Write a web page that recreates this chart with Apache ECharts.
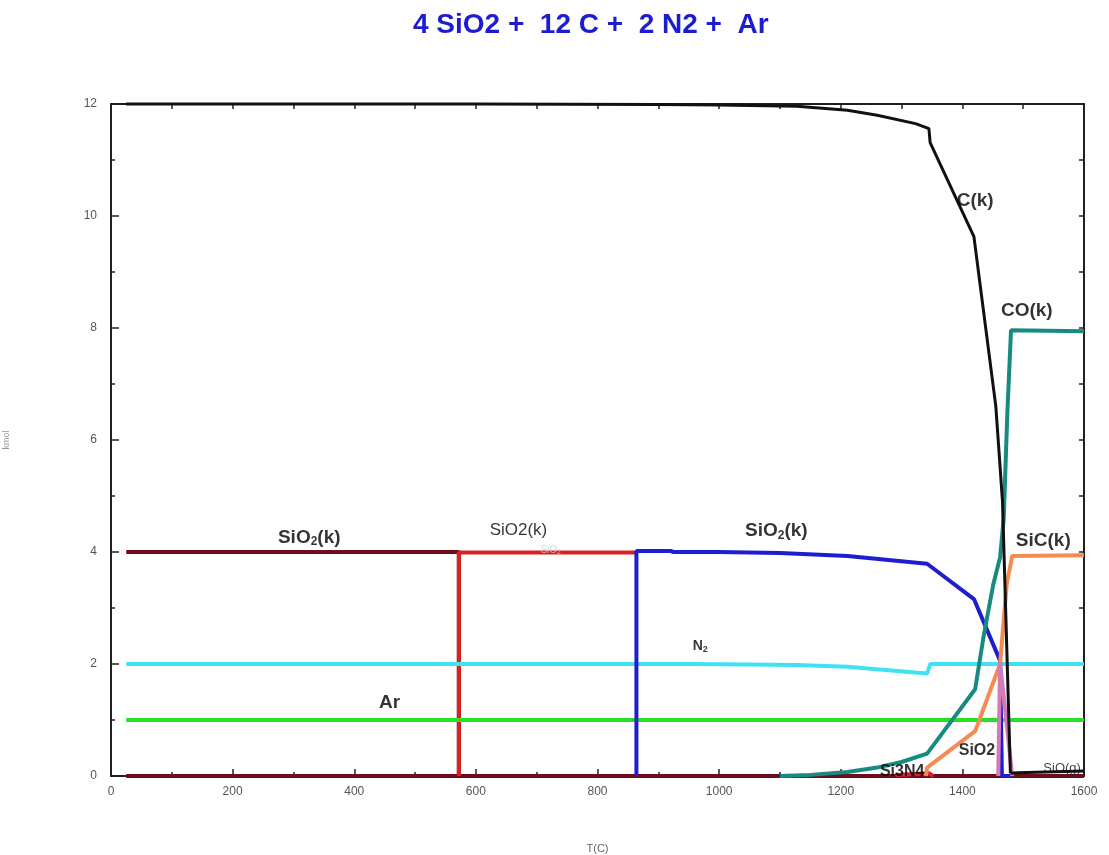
<!DOCTYPE html>
<html>
<head>
<meta charset="utf-8">
<script src="https://cdn.jsdelivr.net/npm/echarts@6/dist/echarts.min.js"></script>
<style>
  html, body { margin: 0; padding: 0; background: #fff; }
  #chart-container { width: 1109px; height: 855px; }
</style>
</head>
<body>
<div id="chart-container"></div>
<script>
var dom = document.getElementById('chart-container');
var myChart = echarts.init(dom, null, { renderer: 'canvas' });

// T(C), amount
var cK = [[25, 12], [600, 12], [900, 11.99], [1000, 11.98], [1128, 11.96], [1211, 11.89], [1260, 11.8],
  [1323, 11.65], [1345, 11.56], [1347, 11.31], [1419, 9.63], [1455, 6.6], [1466, 4.9], [1479, 0.05]];
var sioG = [[1479, 0.05], [1490, 0.06], [1600, 0.09]];
var coK = [[1100, 0], [1150, 0.02], [1211, 0.07], [1260, 0.15], [1300, 0.25], [1342, 0.4], [1421, 1.55],
  [1435, 2.5], [1451, 3.43], [1462, 3.9], [1468, 4.6], [1474, 6.5], [1480, 7.96], [1600, 7.94]];
var sicK = [[1340, 0], [1342, 0.15], [1421, 0.8], [1462, 2.0], [1473, 3.43], [1482, 3.93], [1600, 3.94]];
var sio2Peak = [[1459, 0], [1462, 2.02], [1482, 0]];
var si3n4 = [[1290, 0.02], [1345, 0.05], [1352, 0]];
var others = [[25, 0], [1600, 0]];
var sio2Low = [[25, 4.0], [572, 4.0], [572, 0], [1600, 0]];
var sio2Mid = [[572, 0], [572, 3.99], [864, 3.99]];
var sio2High = [[864, 0], [864, 4.02], [920, 4.02], [925, 4.0], [1000, 4.0], [1100, 3.98], [1211, 3.93],
  [1342, 3.79], [1419, 3.16], [1462, 2.06], [1465, 0], [1482, 0]];
var n2 = [[25, 2.0], [950, 2.0], [1050, 1.99], [1128, 1.98], [1211, 1.95], [1342, 1.83], [1347, 2.0], [1600, 2.0]];
var ar = [[25, 1.0], [1600, 1.0]];

// annotation texts with their anchor in data units
var labelTexts = ['{b|C(k)}', '{b|CO(k)}', '{b|SiC(k)}', '{m|SiO2}', '{m|Si3N4}', '{s|SiO(g)}',
  '{b|SiO}{bs|2}{b|(k)}', '{n|SiO2(k)}', '{f|SiO}{fs|2}', '{b|SiO}{bs|2}{b|(k)}', '{c|N}{cs|2}', '{b|Ar}'];
var labelT = [1421, 1506, 1533, 1424, 1301, 1564, 326, 670, 723, 1094, 969, 458];
var labelV = [10.28, 8.3, 4.2, 0.45, 0.07, 0.14, 4.26, 4.38, 4.04, 4.38, 2.32, 1.3];

var font = 'Liberation Sans, Arial';
var rich = {
  b: { fontSize: 19, fontWeight: 'bold', color: '#000', fontFamily: font },
  bs: { fontSize: 12, fontWeight: 'bold', color: '#000', padding: [9, 0, 0, 0], fontFamily: font },
  n: { fontSize: 17, color: '#000', fontFamily: font },
  m: { fontSize: 16, fontWeight: 'bold', color: '#000', fontFamily: font },
  s: { fontSize: 13, color: '#111', fontFamily: font },
  f: { fontSize: 10, color: '#ccc', fontFamily: font },
  fs: { fontSize: 7, color: '#ccc', padding: [5, 0, 0, 0], fontFamily: font },
  c: { fontSize: 14, fontWeight: 'bold', color: '#000', fontFamily: font },
  cs: { fontSize: 9, fontWeight: 'bold', color: '#000', padding: [6, 0, 0, 0], fontFamily: font }
};

function line(name, data, color, width, z) {
  return {
    name: name,
    type: 'line',
    data: data,
    symbol: 'none',
    clip: false,
    z: z,
    lineStyle: { color: color, width: width },
    animation: false
  };
}

function tickAxis(pos, max, interval, len, showLine) {
  return {
    type: 'value', min: 0, max: max, interval: interval, position: pos,
    axisLine: { show: showLine, onZero: false, lineStyle: { color: '#111', width: 1.5 } },
    axisTick: { show: true, inside: true, length: len, lineStyle: { color: '#222', width: 1.5 } },
    axisLabel: { show: false },
    splitLine: { show: false }
  };
}

var option = {
  animation: false,
  title: {
    text: '4 SiO2 +  12 C +  2 N2 +  Ar',
    left: 408,
    top: 6,
    textStyle: { color: '#1c1cd0', fontSize: 28, fontWeight: 'bold', fontFamily: font }
  },
  grid: {
    left: 111, right: 25, top: 104, bottom: 79,
    outerBoundsMode: 'none',
    containLabel: false,
    show: true, borderColor: '#111', borderWidth: 1.5
  },
  xAxis: [
    {
      type: 'value', min: 0, max: 1600, interval: 200,
      name: 'T(C)', nameLocation: 'middle', nameGap: 67,
      nameTextStyle: { color: '#666', fontSize: 11, fontFamily: font },
      axisLine: { show: true, onZero: false, lineStyle: { color: '#111', width: 1.5 } },
      axisTick: { show: true, inside: true, length: 7, lineStyle: { color: '#222', width: 1.5 } },
      axisLabel: { color: '#555', fontSize: 12, margin: 10, fontFamily: font,
        formatter: function (v) { return String(v); } },
      splitLine: { show: false }
    },
    tickAxis('top', 1600, 100, 5, true),
    tickAxis('bottom', 1600, 100, 4, false)
  ],
  yAxis: [
    {
      type: 'value', min: 0, max: 12, interval: 2,
      name: 'kmol', nameLocation: 'middle', nameGap: 100,
      nameTextStyle: { color: '#999', fontSize: 9, fontFamily: font },
      axisLine: { show: true, onZero: false, lineStyle: { color: '#111', width: 1.5 } },
      axisTick: { show: true, inside: true, length: 8, lineStyle: { color: '#222', width: 1.5 } },
      axisLabel: { color: '#555', fontSize: 12, margin: 14, fontFamily: font,
        formatter: function (v) { return String(v); } },
      splitLine: { show: false }
    },
    tickAxis('right', 12, 1, 5, true),
    tickAxis('left', 12, 1, 4, false)
  ],
  series: [
    line('others', others, '#6e0d1c', 4, 2),
    line('SiO2(k) low', sio2Low, '#6e0d1c', 4, 2),
    line('SiO2(k) mid', sio2Mid, '#d8201e', 4, 3),
    line('Ar', ar, '#26e026', 4, 3),
    line('N2', n2, '#3fe2f2', 4, 3),
    line('SiO2(k) high', sio2High, '#1e1ed0', 4, 4),
    line('Si3N4', si3n4, '#d8203a', 4, 4),
    line('SiC(k)', sicK, '#f58a52', 4, 5),
    line('CO(k)', coK, '#178a82', 4, 5),
    line('SiO2', sio2Peak, '#d47ab8', 4, 6),
    line('C(k)', cK, '#111', 3, 7),
    line('SiO(g)', sioG, '#111', 3, 7),
    {
      name: 'labels',
      type: 'scatter',
      symbolSize: 0,
      z: 10,
      silent: true,
      data: labelTexts.map(function (t, i) {
        return { value: [labelT[i], labelV[i]], text: t };
      }),
      label: {
        show: true,
        position: 'inside',
        color: '#000',
        textBorderWidth: 0,
        formatter: function (p) { return p.data.text; },
        rich: rich
      }
    }
  ]
};

myChart.setOption(option);
window.addEventListener('resize', myChart.resize);
</script>
</body>
</html>
